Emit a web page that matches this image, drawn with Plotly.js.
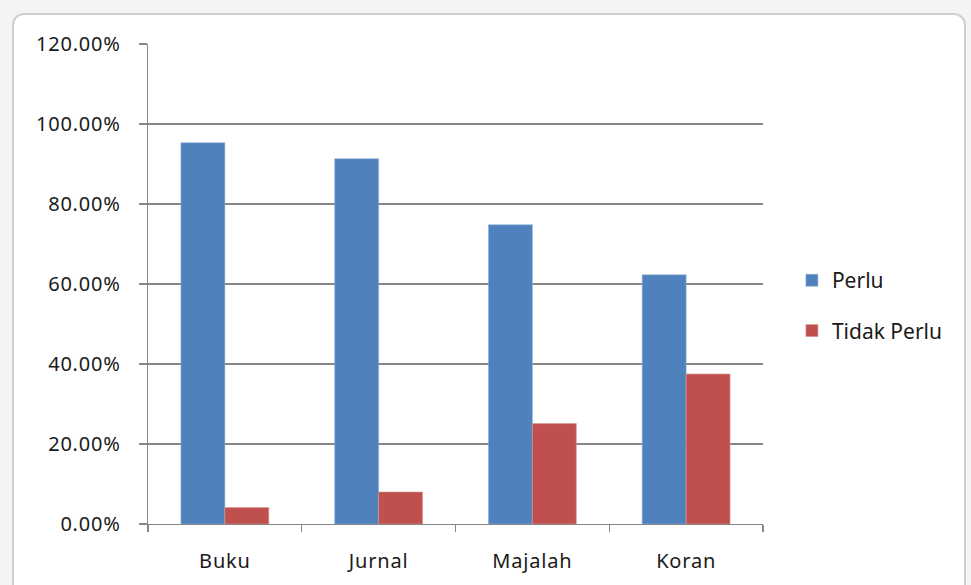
<!DOCTYPE html>
<html>
<head>
<meta charset="utf-8">
<script src="https://cdn.plot.ly/plotly-3.0.1.min.js"></script>
<style>
  html, body { margin: 0; padding: 0; background: #f4f4f4; overflow: hidden; }
  #frame { position: absolute; left: 12px; top: 13px; width: 950px; height: 620px;
           border: 2px solid #cfcfcf; border-radius: 12px; background: #fff; }
  #chart { position: absolute; left: 0; top: 0; width: 971px; height: 585px; }
  #chart .xtick text, #chart .ytick text { letter-spacing: 0.8px; }
</style>
</head>
<body>
<div id="frame"></div>
<div id="chart"></div>
<script>
const categories = ["Buku", "Jurnal", "Majalah", "Koran"];
const perlu = [0.953, 0.913, 0.748, 0.623];
const tidakPerlu = [0.041, 0.080, 0.251, 0.375];
const seriesNames = ["Perlu", "Tidak Perlu"];
const yTicks = [0, 0.2, 0.4, 0.6, 0.8, 1.0, 1.2];

const fam = "Noto Sans, Open Sans, sans-serif";
const font = { family: fam, size: 20, color: "#1a1a1a" };

const traces = [
  { type: "bar", name: seriesNames[0], legendgroup: "a", x: categories, y: perlu,
    marker: { color: "#4F81BD", line: { color: "#8fb0d8", width: 0.6 } } },
  { type: "bar", name: seriesNames[1], legendgroup: "b", x: categories, y: tidakPerlu,
    marker: { color: "#C0504D", line: { color: "#d89492", width: 0.6 } } }
];

const layout = {
  width: 971, height: 585,
  paper_bgcolor: "rgba(0,0,0,0)", plot_bgcolor: "rgba(0,0,0,0)",
  margin: { l: 148, r: 208, t: 44, b: 61 },
  barmode: "group", bargap: 0.4286, bargroupgap: 0,
  font: font,
  showlegend: true,
  legend: { x: 1.047, xanchor: "left", y: 0.455, yanchor: "middle",
            font: { family: fam, size: 21, color: "#1a1a1a" }, traceorder: "grouped",
            tracegroupgap: 20, itemwidth: 30, bgcolor: "rgba(0,0,0,0)" },
  xaxis: { type: "category", showgrid: false, showline: true, linecolor: "#868686", linewidth: 1.3,
           ticks: "outside", tickson: "boundaries", ticklen: 7, tickcolor: "#868686", tickwidth: 1.3,
           tickfont: font, ticklabelstandoff: 19 },
  yaxis: { range: [0, 1.2], tickvals: yTicks, tickformat: ".2%", showgrid: true, gridcolor: "#868686",
           gridwidth: 1.3, showline: true, linecolor: "#868686", linewidth: 1.3, zeroline: false,
           ticks: "outside", ticklen: 8, tickcolor: "#868686", tickwidth: 1.3,
           tickfont: font, ticklabelstandoff: 14 }
};

Plotly.newPlot("chart", traces, layout, { displayModeBar: false, staticPlot: true });
</script>
</body>
</html>
